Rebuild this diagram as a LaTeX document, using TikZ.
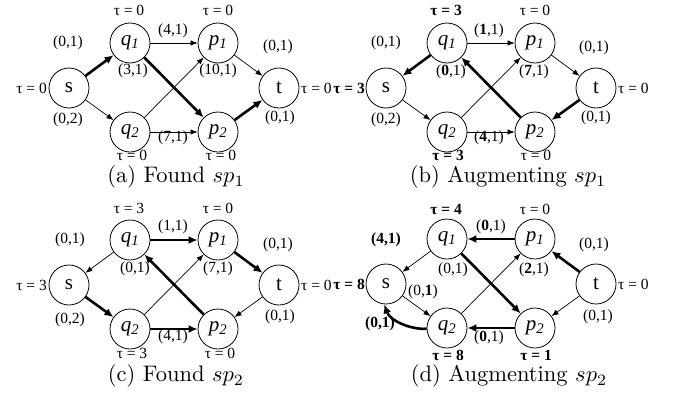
\documentclass[tikz,border=0pt]{standalone}
\usepackage{fontspec}
\newfontfamily\tnr{Liberation Serif}
\usetikzlibrary{arrows.meta}
\tikzset{
  vtx/.style={circle,draw,line width=0.8pt,minimum size=40pt,inner sep=0pt,font=\tnr\fontsize{21}{23}\selectfont},
  lbl/.style={font=\tnr\fontsize{15.5}{17}\selectfont,inner sep=0pt},
  thinarr/.style={line width=0.7pt,-{Latex[length=7pt,width=5.5pt]}},
  thickarr/.style={line width=2.6pt,-{Latex[length=9pt,width=8pt]}},
  captext/.style={inner sep=0pt},
}
\newcommand\qq[1]{\textit{q}\textsubscript{\textit{#1}}}
\newcommand\pp[1]{\textit{p}\textsubscript{\textit{#1}}}
\newcommand\capt[1]{\scalebox{2.25}{\fontsize{10}{12}\selectfont #1}}
\newcommand\panelnodes[1]{%
  \node[vtx] (#1s) at (69,88) {s};
  \node[vtx] (#1q1) at (130,43) {\qq{1}};
  \node[vtx] (#1q2) at (130,132) {\qq{2}};
  \node[vtx] (#1p1) at (218,43) {\pp{1}};
  \node[vtx] (#1p2) at (218,132) {\pp{2}};
  \node[vtx] (#1t) at (279,88) {t};
}
\begin{document}
\begin{tikzpicture}[x=1pt,y=-1pt]
\useasboundingbox (0,0) rectangle (676,399);
% ---------------- (a)
\begin{scope}
\panelnodes{a}
\draw[thickarr] (as) -- (aq1);
\draw[thinarr] (as) -- (aq2);
\draw[thinarr] (aq1) -- (ap1);
\draw[thickarr] (aq1) -- (ap2);
\draw[thinarr] (aq2) -- (ap1);
\draw[thinarr] (aq2) -- (ap2);
\draw[thinarr] (ap1) -- (at);
\draw[thickarr] (ap2) -- (at);
\node[lbl] (aT1) at (129,10) {τ = 0};
\node[lbl] (aT2) at (218,10) {τ = 0};
\node[lbl] (aT3) at (132,155) {τ = 0};
\node[lbl] (aT4) at (221,155) {τ = 0};
\node[lbl,anchor=east] (aT5) at (47,88) {τ = 0};
\node[lbl,anchor=west] (aT6) at (301,88) {τ = 0};
\node[lbl] (aL1) at (68,43) {(0,1)};
\node[lbl] (aL2) at (68,120) {(0,2)};
\node[lbl] (aL3) at (173,31) {(4,1)};
\node[lbl] (aL4) at (133,71) {(3,1)};
\node[lbl] (aL5) at (218,71) {(10,1)};
\node[lbl] (aL6) at (173,138) {(7,1)};
\node[lbl] (aL7) at (278,47) {(0,1)};
\node[lbl] (aL8) at (280,118) {(0,1)};
\node[captext] (acap) at (176,177) {\capt{(a) Found $sp_1$}};
\end{scope}
% ---------------- (b)
\begin{scope}[shift={(317,0)}]
\panelnodes{b}
\draw[thickarr] (bq1) -- (bs);
\draw[thinarr] (bs) -- (bq2);
\draw[thinarr] (bq1) -- (bp1);
\draw[thickarr] (bp2) -- (bq1);
\draw[thinarr] (bq2) -- (bp1);
\draw[thinarr] (bq2) -- (bp2);
\draw[thinarr] (bp1) -- (bt);
\draw[thickarr] (bt) -- (bp2);
\node[lbl] (bT1) at (129,10) {\textbf{τ = 3}};
\node[lbl] (bT2) at (218,10) {τ = 0};
\node[lbl] (bT3) at (131,155) {\textbf{τ = 3}};
\node[lbl] (bT4) at (219,155) {τ = 0};
\node[lbl,anchor=east] (bT5) at (48,88) {\textbf{τ = 3}};
\node[lbl,anchor=west] (bT6) at (301,88) {τ = 0};
\node[lbl] (bL1) at (69,43) {(0,1)};
\node[lbl] (bL2) at (69,120) {(0,2)};
\node[lbl] (bL3) at (172,31) {(\textbf{1},1)};
\node[lbl] (bL4) at (134,72) {(\textbf{0},1)};
\node[lbl] (bL5) at (217,72) {(\textbf{7},1)};
\node[lbl] (bL6) at (172,138) {(\textbf{4},1)};
\node[lbl] (bL7) at (277,48) {(0,1)};
\node[lbl] (bL8) at (279,118) {(0,1)};
\node[captext] (bcap) at (191,177) {\capt{(b) Augmenting $sp_1$}};
\end{scope}
% ---------------- (c)
\begin{scope}[shift={(0,197)}]
\panelnodes{c}
\draw[thinarr] (cq1) -- (cs);
\draw[thickarr] (cs) -- (cq2);
\draw[thickarr] (cq1) -- (cp1);
\draw[thickarr] (cp2) -- (cq1);
\draw[thinarr] (cq2) -- (cp1);
\draw[thickarr] (cq2) -- (cp2);
\draw[thickarr] (cp1) -- (ct);
\draw[thinarr] (ct) -- (cp2);
\node[lbl] (cT1) at (129,11) {τ = 3};
\node[lbl] (cT2) at (218,11) {τ = 0};
\node[lbl] (cT3) at (132,156) {τ = 3};
\node[lbl] (cT4) at (220,156) {τ = 0};
\node[lbl,anchor=east] (cT5) at (47,88) {τ = 3};
\node[lbl,anchor=west] (cT6) at (301,88) {τ = 0};
\node[lbl] (cL1) at (70,43) {(0,1)};
\node[lbl] (cL2) at (70,123) {(0,2)};
\node[lbl] (cL3) at (173,30) {(1,1)};
\node[lbl] (cL4) at (135,72) {(0,1)};
\node[lbl] (cL5) at (218,72) {(7,1)};
\node[lbl] (cL6) at (173,140) {(4,1)};
\node[lbl] (cL7) at (278,48) {(0,1)};
\node[lbl] (cL8) at (280,120) {(0,1)};
\node[captext] (ccap) at (176,179) {\capt{(c) Found $sp_2$}};
\end{scope}
% ---------------- (d)
\begin{scope}[shift={(317,196)}]
\panelnodes{d}
\draw[thinarr] (dq1) -- (ds);
\draw[thinarr] (ds) -- (dq2);
\draw[thickarr] (dq2.182) .. controls (95,134) and (73,125) .. (ds.-95);
\draw[thickarr] (dp1) -- (dq1);
\draw[thickarr] (dq1) -- (dp2);
\draw[thinarr] (dq2) -- (dp1);
\draw[thickarr] (dp2) -- (dq2);
\draw[thickarr] (dt) -- (dp1);
\draw[thinarr] (dt) -- (dp2);
\node[lbl] (dT1) at (129,13) {\textbf{τ = 4}};
\node[lbl] (dT2) at (218,13) {τ = 0};
\node[lbl] (dT3) at (131,159) {\textbf{τ = 8}};
\node[lbl] (dT4) at (219,159) {\textbf{τ = 1}};
\node[lbl,anchor=east] (dT5) at (48,88) {\textbf{τ = 8}};
\node[lbl,anchor=west] (dT6) at (301,88) {τ = 0};
\node[lbl] (dL1) at (69,44) {\textbf{(4,1)}};
\node[lbl] (dL2) at (63,128) {\textbf{(0,1)}};
\node[lbl] (dL3) at (174,31) {(\textbf{0},1)};
\node[lbl] (dL4) at (136,74) {(0,1)};
\node[lbl] (dL5) at (217,74) {(\textbf{2},1)};
\node[lbl] (dL6) at (172,142) {(\textbf{0},1)};
\node[lbl] (dL7) at (277,49) {(0,1)};
\node[lbl] (dL8) at (281,121) {(0,1)};
\node[lbl] (dL9) at (106,96) {(0,\textbf{1})};
\node[captext] (dcap) at (192,180) {\capt{(d) Augmenting $sp_2$}};
\end{scope}
\end{tikzpicture}
\end{document}
